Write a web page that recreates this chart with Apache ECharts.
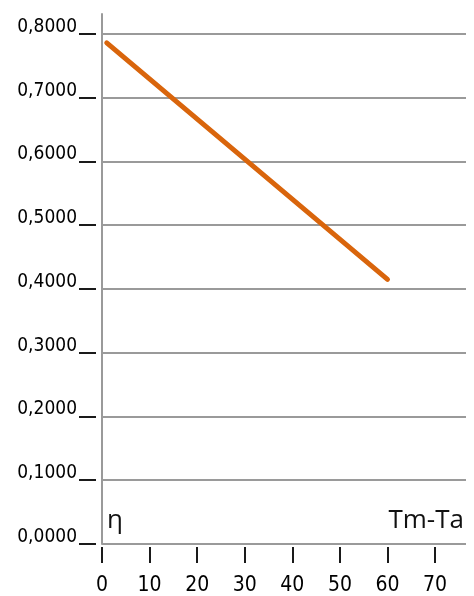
<!DOCTYPE html>
<html>
<head>
<meta charset="utf-8">
<script src="https://cdn.jsdelivr.net/npm/echarts@6/dist/echarts.min.js"></script>
<style>
  html, body { margin: 0; padding: 0; background: #fff; }
  #chart { width: 474px; height: 596px; }
</style>
</head>
<body>
<div id="chart"></div>
<script>
// Efficiency curve: η against temperature difference Tm-Ta
const tempDiff = [1, 60];
const efficiency = [0.786, 0.415];
const xTicks = [0, 10, 20, 30, 40, 50, 60, 70];
const yTicks = [0, 0.1, 0.2, 0.3, 0.4, 0.5, 0.6, 0.7, 0.8];

const narrow = "'Liberation Sans Narrow', 'DejaVu Sans Condensed', 'Roboto Condensed', sans-serif";
const gridGray = '#9a9a9a';
const tickBlack = '#1a1a1a';

const chart = echarts.init(document.getElementById('chart'), null, { renderer: 'canvas' });

chart.setOption({
  animation: false,
  backgroundColor: '#ffffff',
  grid: { left: 102, right: 8, top: 14, bottom: 50, containLabel: false },
  xAxis: [
    {
      type: 'value', min: 0, max: 76.5,
      axisLine: { show: false },
      axisTick: { show: false },
      axisLabel: { show: false },
      splitLine: { show: false }
    },
    {
      // detached tick row below the plot
      type: 'value', min: 0, max: 76.5, position: 'bottom', offset: 3,
      axisLine: { show: false, onZero: false },
      axisTick: {
        show: true, length: 16, customValues: xTicks,
        lineStyle: { color: tickBlack, width: 2 }
      },
      axisLabel: {
        show: true, customValues: xTicks, margin: 28,
        fontFamily: narrow, fontSize: 21, color: '#000'
      },
      splitLine: { show: false }
    }
  ],
  yAxis: [
    {
      type: 'value', min: 0, max: 0.83125, interval: 0.1,
      axisLine: { show: true, onZero: false, lineStyle: { color: gridGray, width: 2 } },
      axisTick: { show: false },
      axisLabel: {
        show: true, customValues: yTicks, margin: 25,
        fontFamily: narrow, fontSize: 19, color: '#000',
        verticalAlign: 'bottom', lineHeight: 14,
        formatter: v => v.toFixed(4).replace('.', ',')
      },
      splitLine: {
        show: true, showMaxLine: false,
        lineStyle: { color: gridGray, width: 2 }
      }
    },
    {
      // short dashes standing off the axis line
      type: 'value', min: 0, max: 0.83125, position: 'left', offset: 6,
      axisLine: { show: false, onZero: false },
      axisTick: {
        show: true, length: 17, customValues: yTicks,
        lineStyle: { color: tickBlack, width: 2 }
      },
      axisLabel: { show: false },
      splitLine: { show: false }
    }
  ],
  graphic: [
    {
      type: 'text', left: 107, top: 508,
      style: { text: 'η', font: "26px 'Open Sans', sans-serif", fill: '#111' }
    },
    {
      type: 'text', right: 10, top: 508,
      style: { text: 'Tm-Ta', font: "26px 'Open Sans', sans-serif", fill: '#111' }
    }
  ],
  series: [
    {
      type: 'line',
      xAxisIndex: 0, yAxisIndex: 0,
      data: tempDiff.map((t, i) => [t, efficiency[i]]),
      showSymbol: false,
      lineStyle: { color: '#d9650c', width: 5, cap: 'round' }
    }
  ]
});
</script>
</body>
</html>
